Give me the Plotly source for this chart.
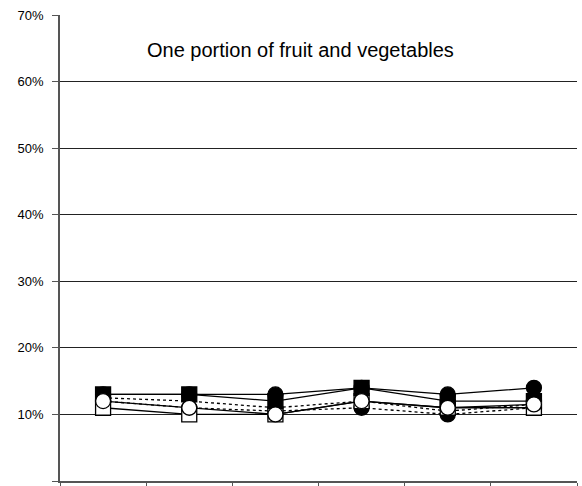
import plotly.graph_objects as go

categories = ["1", "2", "3", "4", "5", "6"]
filled_square = [13, 13, 12, 14, 12, 12]
filled_circle = [13, 13, 13, 14, 13, 14]
open_circle = [12, 11, 10, 12, 11, 11.5]
open_square = [11, 10, 10, 12, 11, 11]
dotted_a = [12.5, 12, 11, 12, 10.5, 11.5]
dotted_b = [12, 11, 10.5, 11, 10, 11]
y_ticks = [0, 10, 20, 30, 40, 50, 60, 70]
title_text = "One portion of fruit and vegetables"

xs = list(range(len(categories)))
fig = go.Figure()

def add(vals, symbol=None, fill="black", dash="solid"):
    mode = "lines+markers" if symbol else "lines"
    fig.add_trace(go.Scatter(
        x=xs, y=vals, mode=mode,
        line=dict(color="black", width=1.3, dash=dash),
        marker=dict(symbol=symbol or "circle", size=15, color=fill,
                    line=dict(color="black", width=1.3)),
        showlegend=False, hoverinfo="skip"))

add(dotted_a, None, dash="dot")
add(dotted_b, "circle", fill="black", dash="dot")
add(open_square, "square", fill="white")
add(filled_square, "square", fill="black")
add(filled_circle, "circle", fill="black")
add(open_circle, "circle", fill="white")

fig.update_layout(
    template="none",
    width=582, height=486,
    margin=dict(l=60, r=5, t=15, b=5, autoexpand=False),
    paper_bgcolor="white", plot_bgcolor="white",
    font=dict(family="Liberation Sans, Arial", color="black", size=13),
    xaxis=dict(range=[-0.5, 5.5], tickmode="linear", tick0=-0.5, dtick=1,
               showticklabels=False, showgrid=False, zeroline=False, automargin=False,
               showline=True, linecolor="#555", linewidth=1.5,
               ticks="outside", ticklen=6, tickcolor="#555"),
    yaxis=dict(range=[0, 70], tickvals=y_ticks,
               ticktext=[f"{v}%" for v in y_ticks], automargin=False,
               showgrid=True, gridcolor="#222", gridwidth=1,
               zeroline=False, showline=True, linecolor="#555", linewidth=1.5,
               ticks="outside", ticklen=6, tickcolor="#555", ticklabelstandoff=6),
    annotations=[dict(text=title_text, x=0.465, y=0.925, xref="paper", yref="paper",
                      xanchor="center", yanchor="middle", showarrow=False,
                      font=dict(size=20, family="Liberation Sans, Arial"))],
)

fig.write_html("out.html", config={"displayModeBar": False},
               post_script="document.body.style.margin='0';")
